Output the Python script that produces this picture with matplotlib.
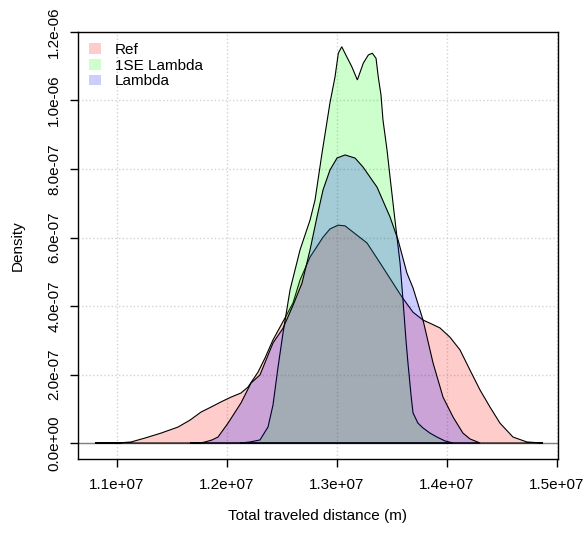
import matplotlib
matplotlib.use("Agg")
import matplotlib.pyplot as plt
from matplotlib.patches import Patch
import numpy as np

plt.rcParams['font.family'] = ['Liberation Sans', 'DejaVu Sans']

# density curves (x in 1e6 m, y in 1e-7)
ref_x = [10.80, 11.00, 11.127, 11.255, 11.40, 11.555, 11.664, 11.764, 11.855, 11.945,
         12.036, 12.127, 12.191, 12.282, 12.345, 12.418, 12.527, 12.60, 12.664, 12.755,
         12.873, 12.936, 13.009, 13.073, 13.145, 13.273, 13.391, 13.509, 13.591, 13.691,
         13.782, 13.864, 13.936, 14.027, 14.118, 14.209, 14.30, 14.391, 14.482, 14.60,
         14.727, 14.873]
ref_y = [0.0, 0.0, 0.03, 0.146, 0.29, 0.467, 0.67, 0.905, 1.05, 1.20,
         1.34, 1.46, 1.635, 2.07, 2.48, 3.01, 3.65, 4.09, 4.76, 5.43,
         6.01, 6.25, 6.36, 6.34, 6.16, 5.84, 5.26, 4.67, 4.26, 3.82,
         3.59, 3.47, 3.36, 3.09, 2.72, 2.13, 1.55, 1.05, 0.58, 0.175,
         0.03, 0.0]

se_x = [12.118, 12.209, 12.30, 12.373, 12.418, 12.464, 12.509, 12.573, 12.664, 12.755,
        12.80, 12.864, 12.936, 12.982, 13.012, 13.043, 13.088, 13.134, 13.185, 13.239,
        13.285, 13.321, 13.355, 13.375, 13.40, 13.418, 13.455, 13.482, 13.527, 13.573,
        13.60, 13.627, 13.645, 13.673, 13.691, 13.736, 13.782, 13.845, 13.909, 13.982,
        14.055]
se_y = [0.0, 0.03, 0.09, 0.47, 1.11, 2.22, 3.21, 4.47, 5.64, 6.51,
        7.09, 8.47, 9.93, 10.69, 11.38, 11.57, 11.28, 10.99, 10.60, 11.09,
        11.33, 11.38, 11.23, 10.69, 10.16, 9.43, 8.55, 7.77, 6.51, 5.26,
        4.18, 3.01, 2.34, 1.40, 0.88, 0.58, 0.44, 0.29, 0.175, 0.06,
        0.0]

lam_x = [11.664, 11.755, 11.80, 11.864, 11.918, 12.009, 12.127, 12.218, 12.30, 12.418,
         12.509, 12.60, 12.682, 12.755, 12.818, 12.873, 12.936, 13.00, 13.073, 13.164,
         13.236, 13.364, 13.482, 13.555, 13.636, 13.691, 13.782, 13.873, 13.964, 14.055,
         14.145, 14.209, 14.30]
lam_y = [0.0, 0.0, 0.03, 0.09, 0.175, 0.58, 1.17, 1.75, 1.99, 2.92,
         3.35, 4.02, 4.67, 5.64, 6.60, 7.39, 7.97, 8.32, 8.41, 8.32,
         8.06, 7.47, 6.60, 5.93, 4.96, 4.53, 3.59, 2.34, 1.34, 0.76,
         0.29, 0.12, 0.0]

labels = ["Ref", "1SE Lambda", "Lambda"]
fills = [(1, 0, 0, 0.2), (0, 1, 0, 0.2), (0, 0, 1, 0.2)]

x_ticks = [1.1e7, 1.2e7, 1.3e7, 1.4e7, 1.5e7]
x_labels = ["1.1e+07", "1.2e+07", "1.3e+07", "1.4e+07", "1.5e+07"]
y_ticks = [0, 2e-7, 4e-7, 6e-7, 8e-7, 1e-6, 1.2e-6]
y_labels = ["0.0e+00", "2.0e-07", "4.0e-07", "6.0e-07", "8.0e-07", "1.0e-06", "1.2e-06"]

fig = plt.figure(figsize=(5.85, 5.33), dpi=100)
ax = fig.add_axes([0.1333, 0.1388, 0.8205, 0.8012])

ax.grid(True, color='lightgray', linestyle=':', linewidth=1)
ax.set_axisbelow(True)
ax.axhline(0, color='gray', linewidth=1, zorder=1)

curves = [(ref_x, ref_y), (se_x, se_y), (lam_x, lam_y)]
for (cx, cy), fc in zip(curves, fills):
    ax.fill(np.array(cx) * 1e6, np.array(cy) * 1e-7, facecolor=fc,
            edgecolor='black', linewidth=0.8, zorder=2)

ax.set_xlim(10.645e6, 15.009e6)
ax.set_ylim(-0.467e-7, 12.0e-7)
ax.set_xticks(x_ticks)
ax.set_xticklabels(x_labels)
ax.set_yticks(y_ticks)
ax.set_yticklabels(y_labels, rotation=90, va='center')
ax.tick_params(axis='both', length=6, width=1, labelsize=11, colors='black')
ax.tick_params(axis='x', pad=8)
ax.tick_params(axis='y', pad=6)
for s in ax.spines.values():
    s.set_linewidth(1)

ax.set_xlabel("Total traveled distance (m)", fontsize=11, labelpad=12)
ax.set_ylabel("Density", fontsize=11, labelpad=16)

handles = [Patch(facecolor=fc, edgecolor='none') for fc in fills]
ax.legend(handles, labels, loc='upper left', frameon=False, fontsize=11,
          handlelength=0.8, handleheight=0.7, handletextpad=0.9,
          labelspacing=0.12, borderaxespad=0.3, bbox_to_anchor=(0.0, 1.0))

fig.savefig("out.png", dpi=100)
